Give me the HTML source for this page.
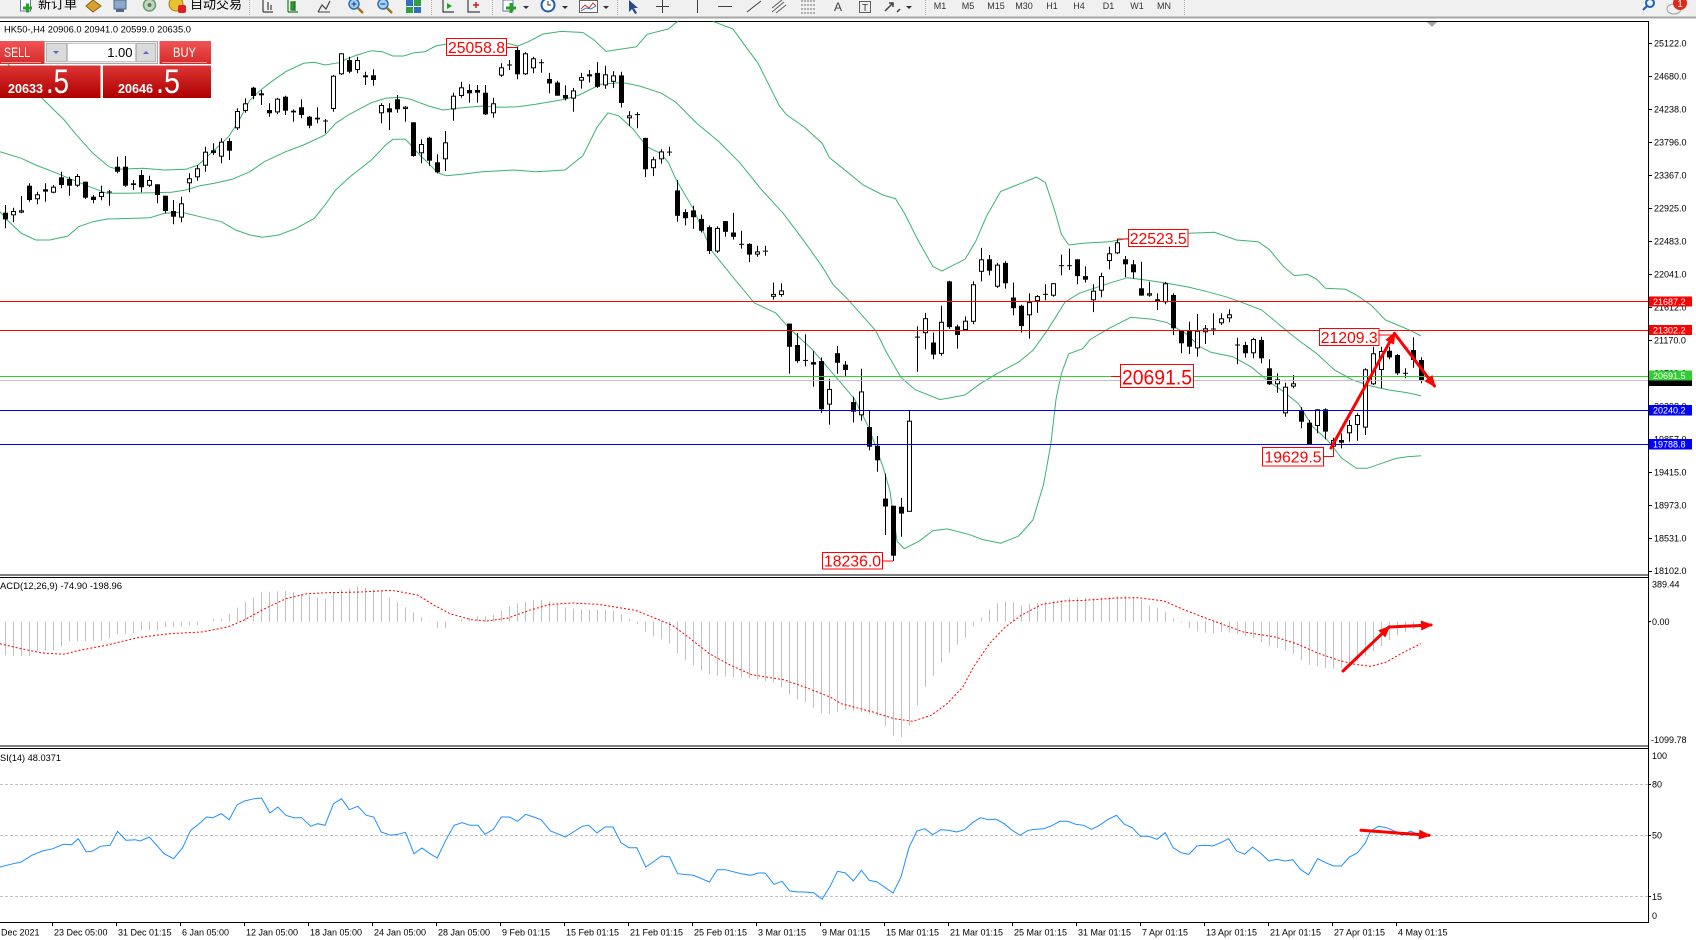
<!DOCTYPE html>
<html><head><meta charset="utf-8">
<style>
html,body{margin:0;padding:0;width:1696px;height:940px;overflow:hidden;background:#fff;}
svg{display:block;}
text{font-family:"Liberation Sans","Noto Sans CJK SC",sans-serif;}
</style></head><body>
<svg id="s" width="1696" height="940" viewBox="0 0 1696 940" xmlns="http://www.w3.org/2000/svg">
<defs>
 <clipPath id="cm"><rect x="0" y="21.5" width="1648" height="553"/></clipPath>
 <clipPath id="cmacd"><rect x="0" y="577.5" width="1648" height="168"/></clipPath>
 <clipPath id="crsi"><rect x="0" y="749" width="1648" height="173"/></clipPath>
 <linearGradient id="gTop" x1="0" y1="0" x2="0" y2="1"><stop offset="0" stop-color="#f05454"/><stop offset="1" stop-color="#d62a2a"/></linearGradient>
 <linearGradient id="gBot" x1="0" y1="0" x2="0" y2="1"><stop offset="0" stop-color="#dc3434"/><stop offset="1" stop-color="#b00000"/></linearGradient>
</defs>
<rect width="1696" height="940" fill="#fff"/>

<!-- TOOLBAR -->
<rect x="0" y="0" width="1696" height="16.5" fill="#f0f0f0"/>
<rect x="0" y="16.5" width="1696" height="2" fill="#a6a6a6"/>
<g>
 <rect x="20.5" y="-2" width="10" height="13" fill="#fff" stroke="#5a78a8"/>
 <path d="M23 8h9M27.5 3.5v9" stroke="#28a028" stroke-width="3"/>
 <text x="38" y="8.5" font-size="13" fill="#000">新订单</text>
 <polygon points="86,6 93,0 101,6 93,12" fill="#d8a030" stroke="#8a6010"/>
 <rect x="114" y="0" width="12" height="9" fill="#8aa8c8" stroke="#506888"/>
 <rect x="116" y="9" width="8" height="3" fill="#506888"/>
 <circle cx="149.5" cy="5" r="6" fill="#c8d0c8" stroke="#60a060" stroke-width="1.5"/>
 <circle cx="149.5" cy="5" r="2" fill="#4a8a4a"/>
 <circle cx="176" cy="4" r="7" fill="#e8c030" stroke="#a08010"/>
 <rect x="178" y="5" width="8" height="8" rx="2" fill="#e02020"/>
 <text x="190" y="8.5" font-size="13" fill="#000">自动交易</text>
 <line x1="249.5" y1="0" x2="249.5" y2="15" stroke="#b0b0b0" stroke-dasharray="1,1"/>
 <path d="M263 0v12M263 12h10M268 2v8M271 5v5" stroke="#404040" stroke-width="1.2" fill="none"/>
 <path d="M288 0v12M288 12h10M291 2h3v8h-3zM295 1v10" stroke="#207a20" stroke-width="1.2" fill="#40a040"/>
 <path d="M318 12l4-7 4 4 4-8" stroke="#404040" stroke-width="1.2" fill="none"/>
 <path d="M318 12h12" stroke="#404040"/>
 <circle cx="354" cy="4" r="5" fill="#a8d0f0" stroke="#3070b0" stroke-width="1.5"/>
 <path d="M351.5 4h5M354 1.5v5" stroke="#2050a0" stroke-width="1.2"/>
 <path d="M358 8l5 5" stroke="#a07020" stroke-width="2.5"/>
 <circle cx="383" cy="4" r="5" fill="#a8d0f0" stroke="#3070b0" stroke-width="1.5"/>
 <path d="M380.5 4h5" stroke="#2050a0" stroke-width="1.2"/>
 <path d="M387 8l5 5" stroke="#a07020" stroke-width="2.5"/>
 <rect x="406" y="0" width="7" height="6" fill="#3070c0"/><rect x="414" y="0" width="7" height="6" fill="#30a040"/>
 <rect x="406" y="7" width="7" height="6" fill="#30a040"/><rect x="414" y="7" width="7" height="6" fill="#3070c0"/>
 <line x1="431.5" y1="0" x2="431.5" y2="15" stroke="#b0b0b0" stroke-dasharray="1,1"/>
 <path d="M443 0v12h11" stroke="#404040" stroke-width="1.2" fill="none"/>
 <polygon points="447,3 452,6 447,9" fill="#20a020"/>
 <path d="M468 0v12h12" stroke="#404040" stroke-width="1.2" fill="none"/>
 <path d="M473 5h6M476 2v6" stroke="#d02020" stroke-width="1.5"/>
 <line x1="492.5" y1="0" x2="492.5" y2="15" stroke="#b0b0b0" stroke-dasharray="1,1"/>
 <rect x="503" y="0" width="10" height="11" fill="#fff" stroke="#5a78a8"/>
 <path d="M506 8h10M511 3v10" stroke="#28a028" stroke-width="3"/>
 <polygon points="523,6 529,6 526,9" fill="#303030"/>
 <circle cx="548" cy="5" r="6.5" fill="#fff" stroke="#2060b0" stroke-width="2"/>
 <path d="M548 1v4h3" stroke="#303030" fill="none"/>
 <polygon points="562,6 568,6 565,9" fill="#303030"/>
 <rect x="579.5" y="0.5" width="18" height="12" fill="#fff" stroke="#606060"/>
 <path d="M581 9l4-4 4 3 4-5 3 3" stroke="#d03030" fill="none"/>
 <path d="M581 11l5-3 5 1 5-3" stroke="#3070c0" fill="none"/>
 <polygon points="603,6 609,6 606,9" fill="#303030"/>
 <line x1="617.5" y1="0" x2="617.5" y2="15" stroke="#b0b0b0" stroke-dasharray="1,1"/>
 <polygon points="629,0 629,12 632,9 635,14 637,13 634,8 638,8" fill="#2a4a8a"/>
 <path d="M662.5 0v13M656 6.5h13" stroke="#404040"/>
 <line x1="697.5" y1="0" x2="697.5" y2="13" stroke="#404040"/>
 <line x1="718" y1="6.5" x2="732" y2="6.5" stroke="#404040"/>
 <line x1="747" y1="12" x2="761" y2="1" stroke="#404040"/>
 <path d="M772 12l12-10M772 8l10-8M776 13l10-8" stroke="#606060" fill="none"/>
 <path d="M801 1h14M801 5h14M801 9h14M801 13h14" stroke="#707070" stroke-dasharray="2,1"/>
 <text x="838" y="11" font-size="12" fill="#404040" text-anchor="middle">A</text>
 <rect x="859.5" y="1.5" width="11" height="11" fill="none" stroke="#606060"/>
 <text x="865" y="11" font-size="10" fill="#404040" text-anchor="middle">T</text>
 <path d="M885 11l8-8M889 3h4v4M897 12l3-3" stroke="#404040" stroke-width="1.5" fill="none"/>
 <polygon points="906,6 912,6 909,9" fill="#303030"/>
 <line x1="925.5" y1="0" x2="925.5" y2="15" stroke="#b0b0b0" stroke-dasharray="1,1"/>
 <g font-size="9" fill="#333" text-anchor="middle">
  <text x="940" y="9">M1</text><text x="968" y="9">M5</text><text x="996" y="9">M15</text><text x="1024" y="9">M30</text>
  <text x="1052" y="9">H1</text><text x="1079" y="9">H4</text><text x="1108.5" y="9">D1</text><text x="1137" y="9">W1</text><text x="1164" y="9">MN</text>
 </g>
 <line x1="1184.5" y1="0" x2="1184.5" y2="15" stroke="#b0b0b0" stroke-dasharray="1,1"/>
 <circle cx="1650" cy="3" r="4" fill="none" stroke="#2060c0" stroke-width="2"/>
 <line x1="1647" y1="6" x2="1643" y2="10" stroke="#2060c0" stroke-width="2"/>
 <ellipse cx="1674" cy="9" rx="7" ry="5" fill="#f0f0f0" stroke="#a0a0a0"/>
 <circle cx="1680" cy="3" r="7" fill="#e02818"/>
 <text x="1680" y="7" font-size="10" fill="#fff" text-anchor="middle">1</text>
</g>

<!-- FRAME -->
<line x1="0" y1="21.5" x2="1649" y2="21.5" stroke="#000"/>
<line x1="1648.5" y1="21" x2="1648.5" y2="923" stroke="#000"/>
<line x1="0" y1="575" x2="1649" y2="575" stroke="#000"/>
<line x1="0" y1="577.5" x2="1649" y2="577.5" stroke="#000"/>
<line x1="0" y1="746" x2="1649" y2="746" stroke="#000"/>
<line x1="0" y1="748.5" x2="1649" y2="748.5" stroke="#000"/>
<line x1="0" y1="922.5" x2="1649" y2="922.5" stroke="#000"/>
<polygon points="1427,22 1437,22 1432,27" fill="#a8a8a8"/>

<!-- MAIN CHART -->
<g clip-path="url(#cm)">
 <g id="bands" fill="none" stroke="#3cb371" stroke-width="1"></g>
 <g id="candles"></g>
 <line x1="0" y1="301.5" x2="1648" y2="301.5" stroke="#ff0000"/>
 <line x1="0" y1="330.5" x2="1648" y2="330.5" stroke="#ff0000"/>
 <line x1="0" y1="380.5" x2="1648" y2="380.5" stroke="#c0c0c0"/>
 <line x1="0" y1="376.5" x2="1648" y2="376.5" stroke="#32cd32"/>
 <line x1="0" y1="410.5" x2="1648" y2="410.5" stroke="#0000ff"/>
 <line x1="0" y1="444.5" x2="1648" y2="444.5" stroke="#0000ff"/>
 <g id="arrowsMain"></g>
</g>

<!-- price text labels -->
<g fill="#fff" stroke="#ff0000" stroke-width="1">
 <rect x="446.5" y="38.5" width="60" height="17"/>
 <rect x="822.5" y="552.5" width="60" height="16.5"/>
 <rect x="1128.5" y="229.5" width="59.5" height="17"/>
 <rect x="1319.5" y="328.5" width="59.5" height="17"/>
 <rect x="1120.5" y="364.5" width="73" height="23"/>
 <rect x="1262.5" y="447.5" width="61" height="18.5"/>
</g>
<g stroke="#ff0000" fill="none">
 <line x1="506.5" y1="47.5" x2="517" y2="47.5"/>
 <line x1="882.5" y1="561" x2="893" y2="561"/>
 <line x1="1117" y1="239" x2="1128.5" y2="239"/>
 <line x1="1379" y1="335" x2="1394" y2="335"/>
 <line x1="1111" y1="376.5" x2="1120.5" y2="376.5"/>
 <polyline points="1323.5,456.5 1333.5,456.5 1333.5,447"/>
</g>
<g fill="#ff0000" text-anchor="middle" font-size="16">
 <text x="476.5" y="53" textLength="57" lengthAdjust="spacingAndGlyphs">25058.8</text>
 <text x="852.5" y="566.5" textLength="57" lengthAdjust="spacingAndGlyphs">18236.0</text>
 <text x="1158.2" y="244" textLength="57" lengthAdjust="spacingAndGlyphs">22523.5</text>
 <text x="1349.2" y="343" textLength="57" lengthAdjust="spacingAndGlyphs">21209.3</text>
 <text x="1293" y="462.5" textLength="57" lengthAdjust="spacingAndGlyphs">19629.5</text>
 <text x="1157" y="384.5" font-size="21" textLength="70" lengthAdjust="spacingAndGlyphs">20691.5</text>
</g>

<!-- header -->
<text x="4" y="32.5" font-size="9.5" fill="#000" textLength="187" lengthAdjust="spacingAndGlyphs">HK50-,H4  20906.0 20941.0 20599.0 20635.0</text>

<!-- SELL/BUY panel -->
<g>
 <rect x="0" y="41" width="44" height="23" fill="url(#gTop)"/>
 <line x1="1" y1="62.5" x2="41" y2="62.5" stroke="#f49a9a"/>
 <text x="4" y="57" font-size="13.5" fill="#fff" textLength="26" lengthAdjust="spacingAndGlyphs">SELL</text>
 <rect x="44.5" y="41.5" width="113" height="22" fill="#ececec" stroke="#a8a8a8"/>
 <rect x="46.5" y="43.5" width="20" height="18" fill="#dadada" stroke="#b8b8b8"/>
 <polygon points="53,51 59,51 56,54" fill="#5868c0"/>
 <rect x="67.5" y="43.5" width="68" height="18" fill="#fff" stroke="#c8c8c8"/>
 <text x="132.5" y="57" font-size="13" fill="#000" text-anchor="end">1.00</text>
 <rect x="136.5" y="43.5" width="19" height="18" fill="#dadada" stroke="#b8b8b8"/>
 <polygon points="143,54 149,54 146,51" fill="#5868c0"/>
 <rect x="159.5" y="41" width="51.5" height="23" fill="url(#gTop)"/>
 <line x1="162" y1="62.5" x2="207" y2="62.5" stroke="#f49a9a"/>
 <text x="173" y="57" font-size="13.5" fill="#fff" textLength="23" lengthAdjust="spacingAndGlyphs">BUY</text>
 <rect x="0" y="65.5" width="100.5" height="32.5" fill="url(#gBot)"/>
 <rect x="103" y="65.5" width="108" height="32.5" fill="url(#gBot)"/>
 <text x="8" y="93" font-size="12.5" font-weight="bold" fill="#fff" textLength="35" lengthAdjust="spacingAndGlyphs">20633</text>
 <text x="46" y="93" font-size="34" fill="#fff" textLength="23" lengthAdjust="spacingAndGlyphs">.5</text>
 <text x="118" y="93" font-size="12.5" font-weight="bold" fill="#fff" textLength="35" lengthAdjust="spacingAndGlyphs">20646</text>
 <text x="156" y="93" font-size="34" fill="#fff" textLength="24" lengthAdjust="spacingAndGlyphs">.5</text>
</g>

<!-- RIGHT PRICE AXIS -->
<g stroke="#000">
 <line x1="1648" y1="43.5" x2="1652" y2="43.5"/><line x1="1648" y1="76.5" x2="1652" y2="76.5"/>
 <line x1="1648" y1="109.5" x2="1652" y2="109.5"/><line x1="1648" y1="142.5" x2="1652" y2="142.5"/>
 <line x1="1648" y1="175.5" x2="1652" y2="175.5"/><line x1="1648" y1="208.5" x2="1652" y2="208.5"/>
 <line x1="1648" y1="241.5" x2="1652" y2="241.5"/><line x1="1648" y1="274.5" x2="1652" y2="274.5"/>
 <line x1="1648" y1="307.5" x2="1652" y2="307.5"/><line x1="1648" y1="340.5" x2="1652" y2="340.5"/>
 <line x1="1648" y1="373.5" x2="1652" y2="373.5"/><line x1="1648" y1="406.5" x2="1652" y2="406.5"/>
 <line x1="1648" y1="439.5" x2="1652" y2="439.5"/><line x1="1648" y1="472.5" x2="1652" y2="472.5"/>
 <line x1="1648" y1="505.5" x2="1652" y2="505.5"/><line x1="1648" y1="538.5" x2="1652" y2="538.5"/>
 <line x1="1648" y1="571.5" x2="1652" y2="571.5"/>
 <line x1="1648" y1="621.5" x2="1651" y2="621.5"/>
 <line x1="1648" y1="784.5" x2="1651" y2="784.5"/><line x1="1648" y1="835.5" x2="1651" y2="835.5"/>
 <line x1="1648" y1="896.5" x2="1651" y2="896.5"/>
</g>
<g font-size="9" fill="#000">
 <text x="1654" y="46.6">25122.0</text><text x="1654" y="79.6">24680.0</text>
 <text x="1654" y="112.6">24238.0</text><text x="1654" y="145.6">23796.0</text>
 <text x="1654" y="178.6">23367.0</text><text x="1654" y="211.6">22925.0</text>
 <text x="1654" y="244.6">22483.0</text><text x="1654" y="277.6">22041.0</text>
 <text x="1654" y="310.6">21612.0</text><text x="1654" y="343.6">21170.0</text>
 <text x="1654" y="376.6">20739.0</text><text x="1654" y="409.6">20298.0</text>
 <text x="1654" y="442.6">19857.0</text><text x="1654" y="475.6">19415.0</text>
 <text x="1654" y="508.6">18973.0</text><text x="1654" y="541.6">18531.0</text>
 <text x="1654" y="574.2">18102.0</text>
 <text x="1652" y="587.5">389.44</text>
 <text x="1652" y="625">0.00</text>
 <text x="1651" y="743">-1099.78</text>
 <text x="1652" y="759">100</text>
 <text x="1652" y="787.5">80</text>
 <text x="1652" y="838.5">50</text>
 <text x="1652" y="900">15</text>
 <text x="1652" y="919">0</text>
</g>
<g>
 <rect x="1649" y="296.5" width="43" height="10" fill="#ff0000"/>
 <rect x="1649" y="325" width="43" height="10" fill="#ff0000"/>
 <rect x="1649" y="375" width="43" height="11" fill="#000"/>
 <rect x="1649" y="370.5" width="43" height="10" fill="#32cd32"/>
 <rect x="1649" y="405" width="43" height="10.5" fill="#0000ff"/>
 <rect x="1649" y="439" width="43" height="10.5" fill="#0000ff"/>
 <g font-size="9" fill="#fff">
  <text x="1653" y="304.8">21687.2</text>
  <text x="1653" y="333.3">21302.2</text>
  <text x="1653" y="378.8">20691.5</text>
  <text x="1653" y="413.6">20240.2</text>
  <text x="1653" y="447.6">19788.8</text>
 </g>
</g>

<!-- MACD -->
<g clip-path="url(#cmacd)">
 <g id="hist"></g>
 <polyline id="sig" fill="none" stroke="#ff0000" stroke-width="1" stroke-dasharray="2,2"/>
 <g id="arrowsMacd"></g>
</g>
<text x="0" y="589" font-size="9" fill="#000" textLength="122" lengthAdjust="spacingAndGlyphs">ACD(12,26,9) -74.90 -198.96</text>

<!-- RSI -->
<g clip-path="url(#crsi)">
 <g stroke="#c0c0c0" stroke-dasharray="3,2">
  <line x1="0" y1="784.5" x2="1648" y2="784.5"/>
  <line x1="0" y1="835.5" x2="1648" y2="835.5"/>
  <line x1="0" y1="896.5" x2="1648" y2="896.5"/>
 </g>
 <polyline id="rsi" fill="none" stroke="#1e90ff" stroke-width="1"/>
 <g id="arrowsRsi"></g>
</g>
<text x="0" y="761" font-size="9" fill="#000" textLength="61" lengthAdjust="spacingAndGlyphs">SI(14) 48.0371</text>

<!-- DATE AXIS -->
<g id="dticks" stroke="#000"></g>
<g font-size="9" fill="#000">
 <text x="1" y="935.5">Dec 2021</text>
 <text x="54" y="935.5">23 Dec 05:00</text>
 <text x="118" y="935.5">31 Dec 01:15</text>
 <text x="182" y="935.5">6 Jan 05:00</text>
 <text x="246" y="935.5">12 Jan 05:00</text>
 <text x="310" y="935.5">18 Jan 05:00</text>
 <text x="374" y="935.5">24 Jan 05:00</text>
 <text x="438" y="935.5">28 Jan 05:00</text>
 <text x="502" y="935.5">9 Feb 01:15</text>
 <text x="566" y="935.5">15 Feb 01:15</text>
 <text x="630" y="935.5">21 Feb 01:15</text>
 <text x="694" y="935.5">25 Feb 01:15</text>
 <text x="758" y="935.5">3 Mar 01:15</text>
 <text x="822" y="935.5">9 Mar 01:15</text>
 <text x="886" y="935.5">15 Mar 01:15</text>
 <text x="950" y="935.5">21 Mar 01:15</text>
 <text x="1014" y="935.5">25 Mar 01:15</text>
 <text x="1078" y="935.5">31 Mar 01:15</text>
 <text x="1142" y="935.5">7 Apr 01:15</text>
 <text x="1206" y="935.5">13 Apr 01:15</text>
 <text x="1270" y="935.5">21 Apr 01:15</text>
 <text x="1334" y="935.5">27 Apr 01:15</text>
 <text x="1398" y="935.5">4 May 01:15</text>
</g>
</svg>

<script>
(function(){
const NS="http://www.w3.org/2000/svg";
function mk(p,tag,a){const e=document.createElementNS(NS,tag);for(const k in a)e.setAttribute(k,a[k]);p.appendChild(e);return e;}
function $(id){return document.getElementById(id);}
function parse(s){return s.trim().split(/\s+/).map(t=>{const v=t.slice(1).split(',').map(Number);return [t[0]].concat(v);});}

const A=parse(`b578,598,555,625 w573,586,563,607 w571,578,528,580 b497,540,490,545 w523,538,515,553 b508,515,490,545 w500,518,495,520 b472,495,455,505 b477,497,470,527 w468,497,462,500 b485,533,485,537 b530,540,525,550 w516,531,497,541 d516,517,510,557 b440,455,410,460 b440,497,408,500 b490,495,480,510 b465,502,450,517 w480,497,467,500 b493,525,493,550 b527,573,527,580 b573,590,540,613 w550,593,530,607 w475,490,460,517 w445,472,435,482 w395,437,380,455 b391,399,370,405 w365,410,355,430 b363,392,355,420 w273,325,265,330 w250,273,235,278 b203,228,200,238 w220,226,210,255 b270,280,250,290 w236,277,233,283 b230,272,227,285 b272,277,268,305 b262,285,238,295 b290,317,288,325 b293,298,262,310 d303,304,297,340 w167,267,165,275 w100,163,100,165 b120,155,110,160 w120,150,110,160 w166,171,155,195 b166,180,148,197 w255,280,250,310 b265,277,250,330 b238,268,225,278 w260,267,258,305 b307,408,307,410 w372,400,358,430 b353,422,350,437 b427,457,403,460 w367,418,333,453 w227,268,218,302 w202,228,185,233 b210,220,193,248 b210,218,195,248 b218,283,195,285 w250,280,233,293 w142,167,130,170 d135,136,120,150 b90,163,80,178 w100,163,97,165 w115,145,110,160 d128,129,118,158`);
const B=parse(`b165,178,148,205 b175,212,170,212 b210,220,183,225 w197,220,190,257 w160,170,148,192 w152,158,140,175 b148,187,118,190 w152,183,128,193 w155,173,143,190 b155,232,145,245 w267,275,255,297 d265,266,258,303 b330,418,330,440 w390,415,383,437 w368,390,362,402 d370,371,355,380 b477,548,448,565 b538,555,530,575 b533,552,520,585 b557,590,545,595 b580,647,575,655 w582,648,578,652 b563,593,563,607 b595,607,540,615 d628,629,590,640 b627,657,625,678 w648,657,632,663 d647,648,632,660 w767,775,735,783 w757,770,737,775 b850,915,850,990 b910,955,877,960 d953,954,880,970 b958,965,927,1027 b955,1090,945,1100 w1033,1077,1005,1133 b933,960,913,990 b965,980,955,1000 b1070,1097,1055,1127 w1040,1107,977,1122 b1140,1195,1093,1205 b1192,1233,1165,1265 b1340,1362,1270,1442 b1360,1500,1360,1515 b1363,1382,1338,1447 w1122,1377,1093,1377 d888,889,858,985 w835,877,820,922 b903,937,875,950 w845,935,800,940 b732,860,730,865 b858,882,853,920 w842,868,830,870 w740,845,732,852 w670,705,638,732 b670,702,658,715 w685,747,680,750 b680,737,675,752 b777,807,735,827 b800,857,797,875 w790,827,765,892 w773,787,770,820 d768,769,740,785 w737,772,737,775 d688,689,657,715 d688,689,640,700 b670,717,670,740 b717,727,690,735 w758,785,740,818`);
const C=parse(`w228,272,218,292 w160,183,140,208 w127,160,117,163 b178,193,168,232 b193,217,180,235 b265,287,185,287 w280,287,245,290 b298,303,280,330 w250,307,245,313 b285,385,280,405 b390,430,390,460 b393,440,365,462 w392,445,342,470 w385,397,375,432 d387,388,340,405 w355,370,340,375 w343,355,328,367 d435,436,413,493 b435,460,425,473 w417,460,413,475 b420,475,410,490 b505,553,478,555 w538,553,520,578 w560,640,548,650 w550,560,525,565 b633,665,622,685 b668,733,660,735 w628,678,628,700 b628,695,625,718 w720,740,713,768 b720,728,700,745 w675,700,660,725 w645,675,640,722 w508,683,505,705 w460,553,440,555 w453,510,440,565 b452,472,440,478 b465,520,462,525 d520,521,505,535 b450,480,412,503 b480,540,472,550`);

const list=[];
A.forEach((c,k)=>list.push([k,c,z=>z/3+20]));
B.forEach((c,k)=>list.push([68+k,c,z=>z/2.8+20]));
C.forEach((c,k)=>list.push([137+k,c,z=>z/3+200]));
const cg=$('candles');
list.forEach(([i,c,f])=>{
  const xc=5.5+8*i, bt=f(c[1]), bb=f(c[2]), wt=f(c[3]), wb=f(c[4]);
  mk(cg,'line',{x1:xc,y1:wt.toFixed(1),x2:xc,y2:wb.toFixed(1),stroke:'#000','stroke-width':1});
  if(c[0]==='b') mk(cg,'rect',{x:xc-2.5,y:bt.toFixed(1),width:5,height:Math.max(1,bb-bt).toFixed(1),fill:'#000'});
  else if(c[0]==='w') mk(cg,'rect',{x:xc-2,y:(bt+0.5).toFixed(1),width:4,height:Math.max(1,bb-bt-1).toFixed(1),fill:'#fff',stroke:'#000','stroke-width':1});
  else mk(cg,'line',{x1:xc-2.5,y1:bt.toFixed(1),x2:xc+2.5,y2:bt.toFixed(1),stroke:'#000','stroke-width':1});
});

function pts(arr,fx,fy){return arr.map(p=>[fx(p[0]),fy(p[1])]);}
function ptsStr(p){return p.map(q=>q[0].toFixed(1)+','+q[1].toFixed(1)).join(' ');}
const f8x=z=>z/2.8,f8y=z=>z/3+20,f9x=z=>540+z/2.8,f9y=z=>20+z/2.8,f10x=z=>1080+z/2.75,f10y=z=>200+z/3;
function band(a8,a9,a10){return pts(a8,f8x,f8y).concat(pts(a9,f9x,f9y),pts(a10,f10x,f10y));}

const up8=[[0,110],[60,170],[123,240],[180,300],[210,340],[260,400],[305,440],[330,448],[400,445],[460,450],[520,448],[555,435],[580,410],[610,380],[640,350],[670,300],[700,240],[730,210],[760,185],[800,155],[850,130],[880,127],[910,135],[950,128],[975,115],[1000,105],[1040,92],[1070,95],[1100,108],[1130,108],[1160,98],[1190,95],[1220,78],[1250,72],[1420,70],[1450,78],[1480,65],[1520,42]];
const up9=[[60,32],[120,35],[150,55],[185,88],[270,75],[300,40],[360,25],[380,8],[400,-5],[460,-5],[540,25],[580,80],[610,120],[640,180],[670,240],[690,265],[740,300],[790,345],[810,385],[860,425],[905,462],[960,490],[995,500],[1020,540],[1060,620],[1100,690],[1125,703],[1190,670],[1220,620],[1250,550],[1290,480],[1340,460],[1390,440],[1415,455],[1440,530],[1460,600],[1480,630],[1520,625]];
const up10=[[80,125],[135,115],[200,105],[300,100],[370,97],[430,120],[490,125],[520,148],[560,200],[590,227],[625,223],[650,237],[675,265],[730,268],[760,285],[800,315],[840,360],[880,378],[910,392],[938,408]];
const md8=[[0,395],[60,415],[100,435],[160,460],[200,478],[250,500],[300,520],[350,520],[430,518],[480,517],[520,510],[560,497],[600,490],[650,478],[700,455],[740,425],[800,395],[850,375],[910,345],[940,310],[975,285],[1010,265],[1040,248],[1080,235],[1120,232],[1150,238],[1200,258],[1240,270],[1280,265],[1350,258],[1400,262],[1450,260],[1500,253]];
const md9=[[70,222],[110,210],[170,180],[230,175],[280,185],[340,205],[380,230],[440,290],[500,340],[560,400],[620,475],[680,540],[740,620],[790,690],[820,740],[860,780],[900,825],[940,870],[970,930],[1010,1000],[1050,1035],[1120,1063],[1190,1050],[1230,1020],[1280,990],[1340,958],[1380,925],[1420,870],[1470,790],[1510,765]];
const md10=[[80,250],[130,233],[180,240],[240,250],[300,262],[350,275],[400,290],[440,305],[500,330],[560,385],[600,420],[650,460],[700,510],[750,540],[800,558],[850,570],[900,578],[938,587]];
const lo8=[[0,575],[20,600],[60,640],[100,660],[140,660],[190,648],[220,620],[260,605],[300,597],[380,595],[420,593],[460,580],[510,577],[560,590],[620,605],[660,630],[700,645],[735,652],[780,645],[830,625],[880,595],[910,555],[940,510],[980,470],[1040,420],[1080,375],[1100,358],[1135,358],[1150,375],[1175,405],[1200,430],[1225,458],[1250,467],[1300,462],[1350,455],[1440,450],[1500,455]];
const lo9=[[70,420],[120,380],[160,300],[190,260],[220,268],[260,305],[300,355],[340,375],[360,400],[380,445],[430,530],[480,645],[540,720],[600,792],[660,820],[700,865],[760,920],[820,990],[880,1060],[920,1140],[960,1250],[980,1320],[1000,1460],[1020,1480],[1060,1460],[1100,1430],[1140,1425],[1200,1440],[1240,1455],[1290,1465],[1340,1445],[1380,1400],[1410,1300],[1430,1190],[1445,1060],[1460,990],[1480,935],[1520,920],[1540,895]];
const lo10=[[80,385],[140,352],[200,358],[240,368],[290,400],[330,440],[360,457],[420,470],[470,500],[520,545],[560,575],[600,610],[640,680],[680,720],[720,775],[760,805],[790,805],[830,790],[870,775],[900,770],[938,767]];
const bg=$('bands');
[[up8,up9,up10],[md8,md9,md10],[lo8,lo9,lo10]].forEach(b=>{mk(bg,'polyline',{points:ptsStr(band(b[0],b[1],b[2]))});});

// MACD histogram
const H11=[[10,235],[55,238],[70,222],[100,220],[115,210],[130,192],[190,192],[205,185],[220,170],[250,170],[265,160],[295,160],[310,150],[340,150],[355,145],[375,145],[390,133],[400,125],[420,125],[435,110],[450,90],[465,75],[480,60],[495,45],[540,42],[555,45],[570,50],[585,55],[600,62],[615,65],[630,45],[645,38],[660,35],[675,28],[690,32],[705,38],[720,40],[735,60],[750,75],[765,90],[780,105],[795,120],[810,133],[825,153],[840,155],[855,135],[870,128],[885,122],[900,118],[915,118],[930,115],[945,103],[960,90],[975,80],[990,75],[1005,70],[1020,68],[1035,72],[1050,80],[1065,90],[1080,95],[1110,98],[1140,98],[1155,100],[1170,108],[1185,122],[1200,133],[1215,160],[1230,175],[1245,185],[1260,190],[1275,220],[1290,245],[1305,260],[1320,275],[1335,290],[1350,295],[1380,300],[1395,300],[1425,305],[1440,310],[1455,315],[1470,320],[1485,345],[1500,365],[1515,370],[1530,380],[1545,408],[1568,410]];
const H12=[[33,405],[48,400],[63,402],[78,405],[93,410],[108,415],[123,445],[138,475],[153,482],[168,450],[183,390],[198,333],[213,300],[228,260],[243,230],[258,205],[273,185],[288,153],[303,125],[318,100],[333,80],[348,72],[363,75],[378,85],[393,82],[408,78],[423,75],[438,72],[453,72],[468,62],[483,60],[498,62],[513,65],[528,62],[543,60],[558,58],[573,55],[588,60],[603,62],[618,83],[633,90],[648,97],[663,120],[678,130],[693,150],[708,162],[723,165],[738,170],[753,165],[768,165],[783,170],[798,175],[813,180],[828,190],[843,205],[858,210],[873,218],[888,225],[903,240],[918,262],[933,265],[948,272],[963,275],[978,275],[993,270],[1008,260],[1023,245],[1038,230],[1053,215],[1068,200],[1083,180],[1098,170],[1113,160],[1136,150]];
const mx11=z=>z/1.889, mx12=z=>820+z/1.889, my=z=>577+z/3;
const hp=pts(H11,mx11,my).concat(pts(H12,mx12,my));
function interp(p,x){if(x<=p[0][0])return p[0][1];for(let j=1;j<p.length;j++){if(x<=p[j][0]){const t=(x-p[j-1][0])/(p[j][0]-p[j-1][0]);return p[j-1][1]+t*(p[j][1]-p[j-1][1]);}}return p[p.length-1][1];}
const hg=$('hist');
for(let i=0;i<178;i++){const x=5.5+8*i;const y=interp(hp,x);mk(hg,'line',{x1:x,y1:621.5,x2:x,y2:y.toFixed(1),stroke:'#c0c0c0','stroke-width':1});}

const S11=[[0,200],[40,215],[80,228],[120,232],[150,220],[200,205],[260,182],[320,170],[380,165],[430,150],[460,130],[500,95],[540,65],[580,50],[620,47],[680,45],[740,40],[790,55],[820,85],[850,110],[890,128],[920,132],[960,123],[1000,100],[1040,82],[1080,78],[1130,82],[1200,100],[1240,125],[1270,145],[1300,180],[1340,230],[1380,265],[1420,293],[1480,308],[1520,330],[1568,360]];
const S12=[[40,380],[100,405],[140,425],[175,433],[210,415],[240,380],[270,330],[290,270],[320,200],[350,150],[380,115],[420,82],[460,72],[500,70],[560,63],[600,62],[650,72],[690,100],[740,130],[800,165],[860,180],[900,200],[940,228],[980,250],[1010,262],[1040,268],[1070,255],[1100,228],[1135,200]];
$('sig').setAttribute('points',ptsStr(pts(S11,mx11,my).concat(pts(S12,mx12,my))));

const R11=[[0,870],[20,862],[40,855],[60,835],[80,822],[100,815],[120,802],[135,803],[148,785],[163,825],[175,822],[190,808],[208,805],[222,763],[238,790],[255,788],[265,792],[282,780],[310,830],[328,845],[345,812],[360,760],[375,742],[390,720],[402,722],[418,710],[433,728],[448,683],[462,672],[480,665],[494,663],[510,708],[525,690],[540,715],[555,722],[570,722],[587,748],[600,740],[614,745],[630,680],[645,665],[660,698],[676,688],[692,715],[706,720],[720,765],[738,775],[752,772],[766,766],[782,830],[797,813],[812,830],[826,843],[842,790],[858,745],[873,737],[888,745],[903,745],[916,772],[932,757],[947,720],[962,720],[978,733],[993,712],[1008,720],[1022,728],[1040,762],[1068,780],[1083,765],[1100,748],[1112,745],[1128,768],[1143,750],[1158,750],[1173,797],[1188,812],[1203,812],[1220,870],[1250,837],[1265,840],[1280,890],[1310,895],[1340,915],[1355,878],[1370,878],[1400,890],[1418,895],[1432,888],[1445,888],[1462,922],[1477,913],[1492,942],[1508,945],[1520,945],[1537,947],[1553,967],[1568,928]];
const R12=[[33,883],[48,888],[63,912],[78,880],[93,910],[108,915],[138,948],[153,900],[168,812],[183,762],[198,755],[213,773],[228,758],[243,760],[258,765],[273,758],[288,737],[303,722],[318,728],[333,727],[348,740],[363,760],[378,775],[393,760],[408,757],[423,755],[438,746],[453,733],[468,733],[483,742],[498,745],[513,757],[528,745],[543,728],[560,715],[575,742],[590,752],[605,778],[620,778],[637,787],[652,767],[667,812],[682,827],[697,832],[712,807],[727,805],[742,807],[757,797],[772,785],[787,822],[802,832],[817,810],[832,828],[848,852],[863,847],[878,852],[893,848],[908,878],[923,893],[940,845],[955,857],[970,867],[985,867],[1000,840],[1015,828],[1030,798],[1040,762],[1055,748],[1070,752],[1085,762],[1100,775],[1115,762],[1130,772]];
$('rsi').setAttribute('points',ptsStr(pts(R11,mx11,my).concat(pts(R12,mx12,my))));

// arrows
function arrow(g,x1,y1,x2,y2,head,w){
  mk(g,'line',{x1:x1,y1:y1,x2:x2,y2:y2,stroke:'#ff0000','stroke-width':w,'stroke-linecap':'round'});
  if(head){const dx=x2-x1,dy=y2-y1,L=Math.hypot(dx,dy),ux=dx/L,uy=dy/L,hl=10,hw=5;
    const bx=x2-ux*hl,by=y2-uy*hl;
    mk(g,'polygon',{points:`${x2+ux*2},${y2+uy*2} ${bx-uy*hw},${by+ux*hw} ${bx+uy*hw},${by-ux*hw}`,fill:'#ff0000'});}
}
const am=$('arrowsMain');
arrow(am,1331,448,1394.5,333.5,true,3);
arrow(am,1394.5,333.5,1434.5,386,true,3);
const ac=$('arrowsMacd');
arrow(ac,1343,671,1389,627,true,3);
arrow(ac,1389,627,1431,625,true,3);
const ar=$('arrowsRsi');
arrow(ar,1361,830.3,1429,835.3,true,3);

// date ticks
const dt=$('dticks');
for(let k=0;k<22;k++){const x=52.5+64*k;mk(dt,'line',{x1:x,y1:922,x2:x,y2:926});}
})();
</script>
</body></html>
